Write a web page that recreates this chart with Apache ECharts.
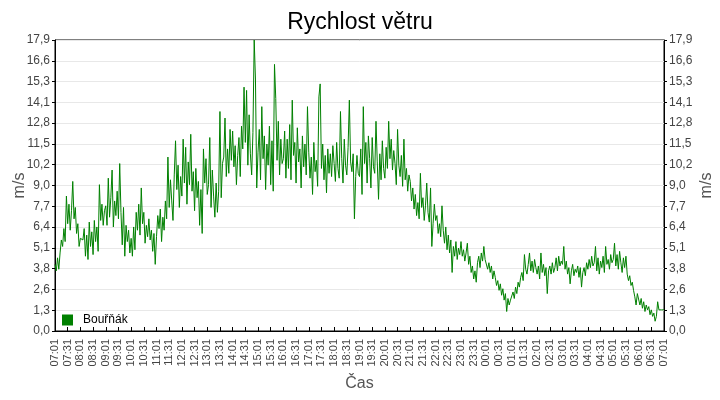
<!DOCTYPE html>
<html><head><meta charset="utf-8">
<script src="https://cdn.jsdelivr.net/npm/echarts@6/dist/echarts.min.js"></script>
<style>html,body{margin:0;padding:0;background:#fff}#c{width:720px;height:400px}</style>
</head><body><div id="c"></div>
<script>
const chartTitle = 'Rychlost větru';
const seriesName = 'Bouřňák';
const yUnit = 'm/s';
const xName = 'Čas';
const timeLabels = ['07:01','07:31','08:01','08:31','09:01','09:31','10:01','10:31','11:01','11:31','12:01','12:31',
  '13:01','13:31','14:01','14:31','15:01','15:31','16:01','16:31','17:01','17:31','18:01','18:31',
  '19:01','19:31','20:01','20:31','21:01','21:31','22:01','22:31','23:01','23:31','00:01','00:31',
  '01:01','01:31','02:01','02:31','03:01','03:31','04:01','04:31','05:01','05:31','06:01','06:31','07:01'];
const sampleStepMin = 3;   // one reading every 3 minutes from 07:01
const labelStepMin = 30;
const yMax = 17.9;
const ySteps = 14;
const windSpeed = [
  // 07:01
  4.1,3.7,4.5,3.8,4.8,5.6,5.2,6.3,5.5,8.3,6.6,7.8,6.2,7.4,9.2,6.9,7.6,6.0,6.6,5.2,
  // 08:01
  5.7,5.6,5.6,6.3,4.6,5.9,4.4,6.7,5.2,6.1,4.7,6.8,5.5,6.4,4.9,9.0,6.8,7.8,6.5,7.4,
  // 09:01
  7.7,6.5,9.4,7.0,8.2,9.9,6.4,8.0,7.1,8.6,6.9,10.3,7.3,5.3,7.6,4.6,6.5,5.5,6.2,4.8,
  // 10:01
  5.7,4.6,6.4,5.0,7.3,6.2,7.8,5.9,8.8,6.6,7.3,5.4,6.5,5.8,6.9,5.6,6.2,4.9,6.0,4.1,
  // 11:01
  5.8,7.1,6.3,7.5,5.5,7.0,6.2,8.0,6.9,10.7,7.6,9.3,8.0,6.8,9.6,11.7,8.7,10.2,7.6,9.5,
  // 12:01
  8.3,11.8,9.1,11.3,7.8,10.4,9.0,12.1,8.6,9.8,7.4,10.0,8.2,9.2,6.5,8.7,6.0,11.2,9.1,10.6,
  // 13:01
  8.4,9.0,11.9,7.6,9.9,8.3,7.0,9.1,7.3,8.6,13.5,8.2,10.3,10.7,13.1,9.5,11.2,9.7,12.4,10.5,
  // 14:01
  12.3,10.1,11.4,9.0,10.8,11.9,9.5,12.6,11.2,15.0,11.6,14.8,10.2,13.3,10.9,9.6,12.2,17.9,15.5,8.8,
  // 15:01
  11.0,12.4,9.3,13.8,10.6,12.0,8.7,11.5,10.2,12.6,9.0,11.7,8.6,16.4,14.3,10.5,12.9,9.6,11.8,10.3,
  // 16:01
  10.6,12.3,9.4,11.8,10.0,12.7,9.3,14.2,10.8,11.6,9.1,12.5,10.4,11.2,8.8,12.0,10.1,11.5,9.6,13.8,
  // 17:01
  11.0,9.4,10.7,8.4,11.6,9.8,10.5,8.9,14.4,15.2,10.0,11.5,9.3,10.8,8.5,11.2,9.7,10.9,9.5,11.4,
  // 18:01
  10.3,9.2,11.6,10.0,9.4,13.5,10.6,9.1,11.8,10.2,9.6,11.3,14.2,10.4,9.8,10.9,6.9,9.5,10.8,9.7,
  // 19:01
  9.5,11.2,8.4,13.8,10.3,11.6,9.1,12.0,10.6,8.8,11.9,10.1,9.7,12.9,10.4,8.1,10.9,9.3,11.7,10.0,
  // 20:01
  9.4,11.3,10.0,12.9,10.6,11.8,9.9,11.1,10.3,9.0,12.4,10.2,9.5,10.8,8.9,11.8,9.3,10.0,8.6,9.6,
  // 21:01
  9.2,8.0,8.8,7.5,8.4,7.1,7.9,6.9,9.7,7.6,8.2,6.8,7.7,9.1,7.3,6.7,8.8,5.2,6.6,7.8,
  // 22:01
  6.8,7.1,6.0,6.6,5.8,7.7,6.2,5.4,6.4,5.0,5.9,4.8,5.6,3.6,5.2,4.6,5.5,4.4,5.1,4.7,
  // 23:01
  5.5,4.6,5.0,4.3,4.8,5.4,4.1,4.6,3.6,4.0,3.2,3.7,3.0,4.2,4.6,3.9,4.8,4.3,5.2,4.4,
  // 00:01
  4.5,3.8,4.2,3.6,4.0,3.2,3.7,3.3,2.8,3.1,2.5,2.9,2.2,2.6,1.9,2.3,1.2,2.0,1.6,1.9,
  // 01:01
  1.8,2.4,2.0,2.7,2.3,3.0,2.7,3.3,3.6,3.1,4.7,3.8,3.5,4.1,4.8,3.7,4.3,3.6,4.4,3.9,
  // 02:01
  3.5,4.0,3.2,4.8,3.6,4.1,3.4,3.9,2.3,3.7,4.0,3.5,4.2,3.6,3.9,4.5,3.7,4.6,4.0,4.3,
  // 03:01
  4.1,5.2,3.8,4.3,3.5,3.9,2.9,3.7,4.1,3.4,3.8,3.6,4.0,3.3,3.9,2.7,3.6,3.9,3.4,4.2,
  // 04:01
  3.8,4.4,3.9,4.6,4.0,4.2,5.2,3.7,4.5,3.5,4.3,3.9,4.6,3.6,5.2,4.1,4.4,3.8,4.7,4.2,
  // 05:01
  4.4,5.4,4.0,4.7,3.8,4.9,4.2,3.6,4.5,3.9,4.6,3.5,3.1,3.4,2.8,3.0,2.5,2.1,1.6,2.3,
  // 06:01
  2.2,1.6,2.0,1.4,1.8,1.2,1.6,1.3,1.5,1.0,1.3,0.9,1.1,0.6,0.9,1.8,1.3,1.3,1.3,1.3,
  // 07:01
  1.3
];

const FONT = 'Liberation Sans, Arial, sans-serif';
const fmtY = v => (Math.round(v * 10) / 10).toFixed(1).replace('.', ',');
const seriesData = windSpeed.map((v, i) => [i * sampleStepMin, v]);
const xMax = (timeLabels.length - 1) * labelStepMin;

function yAxisCfg(pos, gap) {
  return {
    type: 'value', position: pos, min: 0, max: yMax, interval: yMax / ySteps,
    name: yUnit, nameLocation: 'middle', nameGap: gap, nameRotate: 90, nameMoveOverlap: false,
    nameTextStyle: { fontFamily: FONT, fontSize: 16, color: '#555' },
    axisLine: { show: true, lineStyle: { color: '#000', width: 1 } },
    axisTick: { show: true, inside: false, length: 3, lineStyle: { color: '#000' } },
    axisLabel: { fontFamily: FONT, fontSize: 12, color: '#444', formatter: fmtY, margin: 5 },
    splitLine: { show: pos === 'left', lineStyle: { color: '#e8e8e8', width: 1 } }
  };
}

const chart = echarts.init(document.getElementById('c'), null, { renderer: 'canvas' });
chart.setOption({
  animation: false,
  backgroundColor: '#fff',
  title: { text: chartTitle, left: 'center', top: 6,
    textStyle: { fontFamily: FONT, fontSize: 23, fontWeight: 'normal', color: '#000' } },
  legend: { left: 57, top: 309, icon: 'rect', itemWidth: 11, itemHeight: 11,
    textStyle: { fontFamily: FONT, fontSize: 12, color: '#000', padding: [0, 0, 0, 5] },
    data: [seriesName] },
  grid: { left: 55, right: 56, top: 40, bottom: 69, show: true, borderColor: '#000', borderWidth: 1,
    outerBoundsMode: 'none', containLabel: false },
  xAxis: {
    type: 'value', min: 0, max: xMax, interval: labelStepMin,
    name: xName, nameLocation: 'middle', nameGap: 45, nameMoveOverlap: false,
    nameTextStyle: { fontFamily: FONT, fontSize: 16, color: '#555' },
    axisLine: { show: true, lineStyle: { color: '#000', width: 1 } },
    axisTick: { show: true, inside: true, length: 4, lineStyle: { color: '#000' } },
    axisLabel: { fontFamily: FONT, fontSize: 11, color: '#444', rotate: 90, margin: 8,
      formatter: v => timeLabels[Math.round(v / labelStepMin)] },
    splitLine: { show: false }
  },
  yAxis: [yAxisCfg('left', 27), yAxisCfg('right', 35)],
  series: [{
    name: seriesName, type: 'line', data: seriesData, showSymbol: false, symbol: 'none',
    lineStyle: { color: '#008000', width: 1 }, itemStyle: { color: '#008000' }
  }]
});
</script>
</body></html>
